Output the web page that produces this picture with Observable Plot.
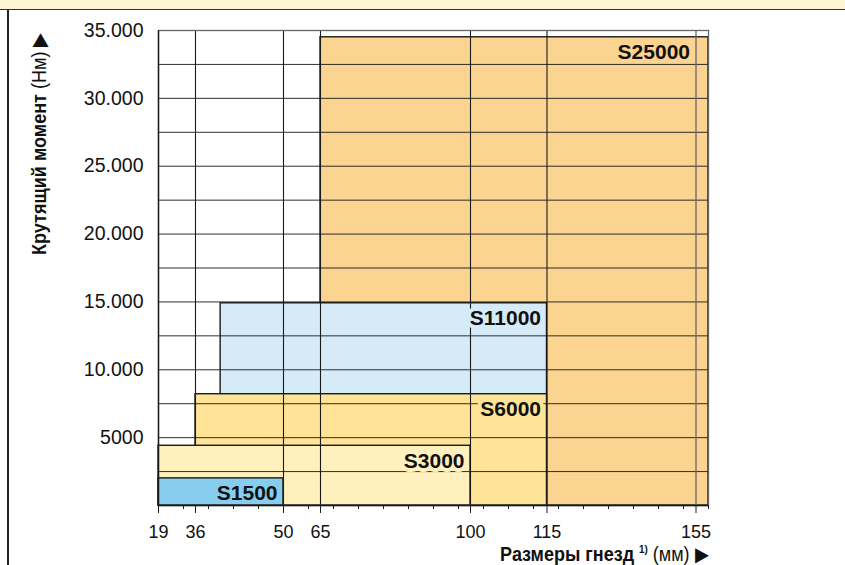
<!DOCTYPE html>
<html><head><meta charset="utf-8">
<script src="https://cdn.jsdelivr.net/npm/d3@7"></script>
<script src="https://cdn.jsdelivr.net/npm/@observablehq/plot@0.6"></script>
<style>
body{margin:0;background:#fff;font-family:"Liberation Sans",Arial,sans-serif;}
#wrap{position:relative;width:845px;height:565px;overflow:hidden;}
#chart{position:absolute;left:0;top:0;}
#topbar{position:absolute;left:0;top:0;width:845px;height:9px;background:#FFF3D2;border-bottom:1.5px solid #333;}
#leftline{position:absolute;left:7px;top:10px;width:1.5px;height:555px;background:#222;}
#xlabel{position:absolute;right:137px;top:538px;font-size:20px;line-height:22px;white-space:nowrap;color:#111;transform:scaleX(0.9);transform-origin:right center;}
#xlabel sup{font-size:11px;}
</style></head><body>
<div id="wrap"><div id="chart"></div><div id="topbar"></div><div id="leftline"></div>
<div id="xlabel"><b>Размеры гнезд <sup>1)</sup></b> (мм) ▶</div></div>
<script>
// Data
const series = ["S25000", "S11000", "S6000", "S3000", "S1500"];
const sizeMin = [65, 40, 36, 19, 19];
const sizeMax = [158, 115, 115, 100, 50];
const torqueMax = [34500, 14900, 8200, 4400, 2000];
const labelAt = [155, 115, 115, 100, 50];
const fills = ["#FBD492", "#D6EBF8", "#FFE396", "#FFF0BE", "#87CEEE"];
const xTicks = [19, 36, 50, 65, 100, 115, 155];
const yTicks = [5000, 10000, 15000, 20000, 25000, 30000, 35000];
const yTickLabels = ["5000", "10.000", "15.000", "20.000", "25.000", "30.000", "35.000"];
const gridY = [2500, 5000, 7500, 10000, 12500, 15000, 17500, 20000, 22500, 25000, 27500, 30000, 32500];

// Non-uniform size axis of the original: piecewise mapping of sizes to axis units
const xBreaks = [19, 36, 50, 65, 100, 115, 155, 158];
const xUnits = [0, 37, 125, 162, 312, 388.5, 537.5, 550];
const toUnits = d3.scaleLinear().domain(xBreaks).range(xUnits);
const majorUnits = xTicks.map(v => toUnits(v));
const minorUnits = d3.range(0, 551, 25);

const idx = series.map((_, i) => i);
const ink = "#1a1a1a";

const chart = Plot.plot({
  width: 845,
  height: 565,
  marginTop: 30,
  marginBottom: 60,
  marginLeft: 158,
  marginRight: 137,
  style: {fontFamily: "Liberation Sans, Arial, sans-serif", background: "transparent", overflow: "visible"},
  x: {type: "linear", transform: v => toUnits(v), domain: [0, 550], label: null},
  y: {domain: [0, 35000], label: null},
  marks: [
    Plot.rect(idx, {
      x1: i => sizeMin[i], x2: i => sizeMax[i], y1: 0, y2: i => torqueMax[i],
      fill: i => fills[i], stroke: ink, strokeWidth: 1.4
    }),
    Plot.ruleY(gridY, {stroke: ink, strokeWidth: 1, strokeOpacity: 0.9}),
    Plot.ruleX([50, 65, 100, 115], {stroke: ink, strokeWidth: 1.1}),
    Plot.ruleX([36], {y1: torqueMax[3], y2: 35000, stroke: ink, strokeWidth: 1.1}),
    Plot.ruleX([155], {stroke: "#666", strokeWidth: 1.3}),
    Plot.frame({stroke: "#666", strokeWidth: 1.3}),
    Plot.ruleX([19], {stroke: ink, strokeWidth: 1.4}),
    Plot.ruleY([0], {stroke: ink, strokeWidth: 1.6}),
    Plot.text(idx, {
      x: i => labelAt[i], y: i => torqueMax[i], text: i => series[i],
      textAnchor: "end", lineAnchor: "middle", dx: -6, dy: 15,
      fontSize: 21, fontWeight: "bold", fill: "#111",
      stroke: i => fills[i], strokeWidth: 8, paintOrder: "stroke"
    }),
    Plot.axisY({ticks: yTicks, tickFormat: d => yTickLabels[yTicks.indexOf(d)], tickSize: 0, tickPadding: 15, fontSize: 19.5, label: null, fill: "#111"}),
    Plot.axisX({ticks: minorUnits, tickSize: 4, tickFormat: () => "", label: null, stroke: ink}),
    Plot.axisX({ticks: majorUnits, tickSize: 8, tickPadding: 11.5, fontSize: 18,
      tickFormat: u => String(xTicks[majorUnits.indexOf(u)]), label: null, stroke: ink, fill: "#111"})
  ]
});
document.getElementById("chart").appendChild(chart);

// Y axis title (rotated)
const svg = d3.select(chart);
const yt = svg.append("text")
  .attr("transform", "translate(46,255) rotate(-90) scale(0.86,1)")
  .attr("text-anchor", "start")
  .attr("font-size", 21)
  .attr("fill", "#111");
yt.append("tspan").attr("font-weight", "bold").text("Крутящий момент ");
yt.append("tspan").text("(Нм) ");
yt.append("tspan").text("▶");
</script>
</body></html>
